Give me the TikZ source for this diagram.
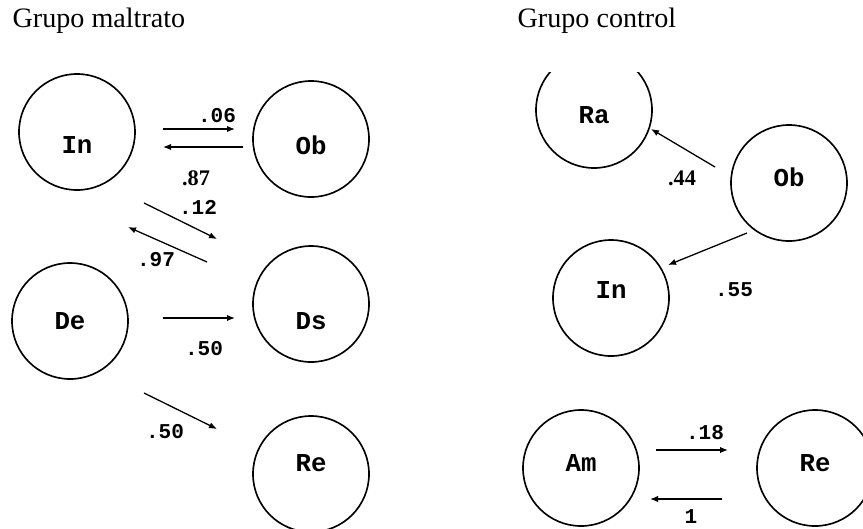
\documentclass[tikz,border=0pt]{standalone}
\usepackage{fontspec}
\setmainfont{Liberation Serif}
\setmonofont{Liberation Mono}
\usetikzlibrary{arrows.meta}

\tikzset{
  nodo/.style={circle, draw, line width=1.4pt, minimum size=3.48cm, inner sep=0pt,
    text depth=0pt, font=\fontsize{22}{24}\selectfont\ttfamily\bfseries},
  prob/.style={inner sep=0pt, font=\fontsize{18}{20}\selectfont\ttfamily\bfseries},
  probserif/.style={inner sep=0pt, font=\fontsize{19}{21}\selectfont\rmfamily\bfseries},
  titulo/.style={inner sep=0pt, anchor=base west, font=\fontsize{24}{26}\selectfont}
}

\begin{document}
\begin{tikzpicture}[x=0.03cm, y=-0.03cm, thick, line width=1.1pt, >={Latex[length=2.4mm,width=1.9mm]}]
        \useasboundingbox (0,0) rectangle (863,528);

        % Titles
        \node[titulo] (tmal) at (12,27) {Grupo maltrato};
        \node[titulo] (tcon) at (517,27) {Grupo control};

        % Grupo maltrato
        \node[nodo, text height=1.29cm] (In1) at (77,132) {In};
        \node[nodo, text height=0.93cm] (Ob1) at (311,139) {Ob};
        \node[nodo, text height=0.51cm] (De) at (70,321) {De};
        \node[nodo, text height=1.53cm] (Ds) at (311,304) {Ds};
        \node[nodo, text height=0pt, text depth=0.15cm] (Re1) at (311,474) {Re};

        \draw[->] ([shift={(86,-3)}]In1.center) -- ([shift={(-76,-10)}]Ob1.center);
        \draw[->] ([shift={(-68,8)}]Ob1.center) -- ([shift={(86,15)}]In1.center);
        \draw[->] ([shift={(67,71)}]In1.center) -- ([shift={(-94,-65)}]Ds.center);
        \draw[->] ([shift={(-104,-42)}]Ds.center) -- ([shift={(51,95)}]In1.center);
        \draw[->] ([shift={(93,-3)}]De.center) -- ([shift={(-76,14)}]Ds.center);
        \draw[->] ([shift={(74,72)}]De.center) -- ([shift={(-94,-45)}]Re1.center);

        \node[prob] (p06) at (217,116) {.06};
        \node[probserif] (p87) at (196,178) {.87};
        \node[prob] (p12) at (198,207) {.12};
        \node[prob] (p97) at (156,260) {.97};
        \node[prob] (p50a) at (204,349) {.50};
        \node[prob] (p50b) at (165,432) {.50};

        % Grupo control
        \begin{scope}
            \clip (500,72) rectangle (700,200);
            \node[nodo, text height=0.81cm] (Ra) at (594,110) {Ra};
        \end{scope}
        \node[nodo, text height=0.21cm] (Ob2) at (789,183) {Ob};
        \node[nodo, text height=0.03cm] (In2) at (611,298) {In};
        \node[nodo, text height=0.21cm] (Am) at (581,468) {Am};
        \node[nodo, text height=0.21cm] (Re2) at (815,468) {Re};

        \draw[->] ([shift={(-74,-16)}]Ob2.center) -- ([shift={(57,19)}]Ra.center);
        \draw[->] ([shift={(-42,50)}]Ob2.center) -- ([shift={(57,-33)}]In2.center);
        \draw[->] ([shift={(75,-18)}]Am.center) -- ([shift={(-87,-18)}]Re2.center);
        \draw[->] ([shift={(-93,31)}]Re2.center) -- ([shift={(69,31)}]Am.center);

        \node[probserif] (p44) at (682,178) {.44};
        \node[prob] (p55) at (734,290) {.55};
        \node[prob] (p18) at (705,433) {.18};
        \node[prob] (p1) at (691,517) {1};

    \end{tikzpicture}
\end{document}
